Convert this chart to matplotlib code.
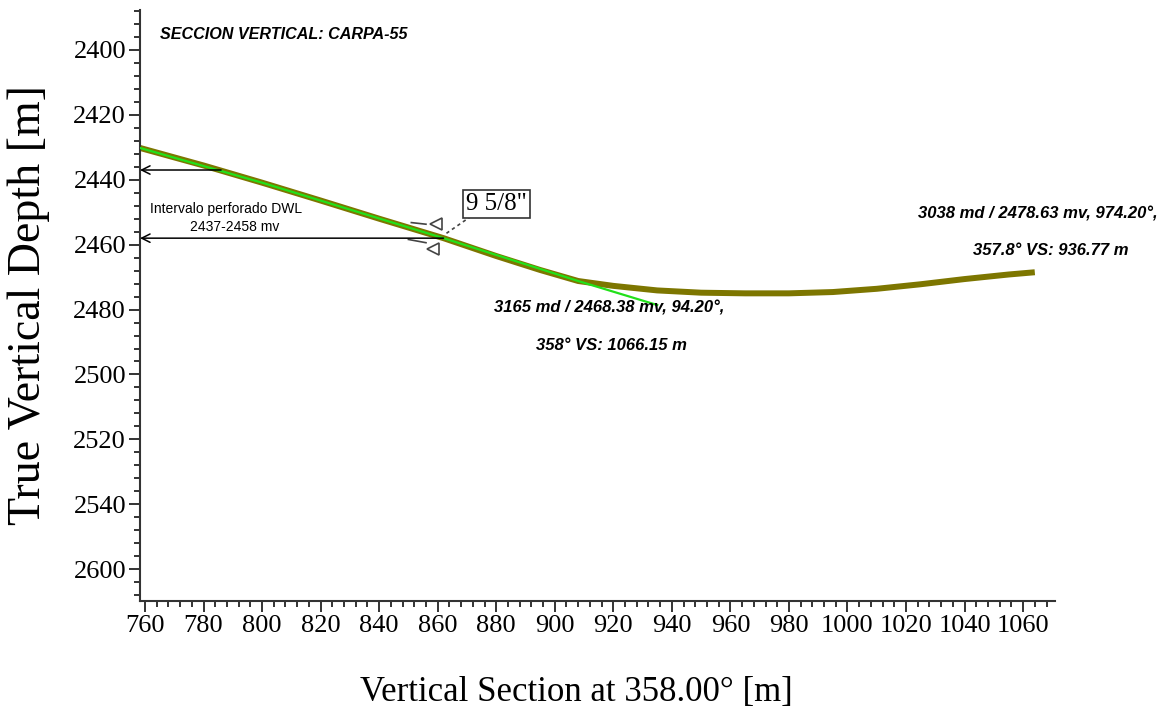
import matplotlib
matplotlib.use("Agg")
import matplotlib.pyplot as plt
from matplotlib.ticker import MultipleLocator

# Actual well path: vertical section (m) vs true vertical depth (m)
vs = [758.3, 780, 800, 820, 840, 862, 880, 895, 908, 920, 935, 950, 965,
      980, 995, 1010, 1025, 1040, 1055, 1064]
tvd = [2430.2, 2435.6, 2440.9, 2446.4, 2452.0, 2458.0, 2463.5, 2467.8,
       2471.2, 2472.7, 2474.1, 2474.8, 2475.0, 2475.0, 2474.6, 2473.6,
       2472.2, 2470.6, 2469.2, 2468.5]

# Planned trajectory (green)
plan_vs = [758.3, 800, 862, 908, 935]
plan_tvd = [2430.2, 2440.9, 2458.0, 2471.2, 2478.6]

# Perforated interval top/bottom and where it meets the path
perf_tvd = [2437, 2458]
perf_vs = [786, 862]

# Casing shoe 9 5/8"
shoe_vs = 859
shoe_tvd = 2458

y_ticks = [2400, 2420, 2440, 2460, 2480, 2500, 2520, 2540, 2560]
y_tick_labels = ["2400", "2420", "2440", "2460", "2480", "2500", "2520", "2540", "2600"]
x_ticks = list(range(760, 1061, 20))

serif = "Liberation Serif"
narrow = ["Liberation Sans Narrow", "Liberation Sans"]

fig = plt.figure(figsize=(11.64, 7.17), dpi=100)
ax = fig.add_axes([140 / 1164, 1 - 600.7 / 717, 915 / 1164, 590.7 / 717])

ax.plot(vs, tvd, color="#7d7600", lw=4.3, solid_capstyle="butt", zorder=2)
ax.plot(plan_vs, plan_tvd, color="#22e01a", lw=1.6, zorder=3)

ax.set_xlim(758.3, 1070.9)
ax.set_ylim(2569.7, 2387.7)

for sp in ["top", "right"]:
    ax.spines[sp].set_visible(False)
for sp in ["left", "bottom"]:
    ax.spines[sp].set_linewidth(1.5)
    ax.spines[sp].set_color("#333333")

ax.set_xticks(x_ticks)
ax.set_yticks(y_ticks)
ax.set_yticklabels(y_tick_labels)
ax.xaxis.set_minor_locator(MultipleLocator(4))
ax.yaxis.set_minor_locator(MultipleLocator(4))
ax.tick_params(which="major", length=8, width=1.4, color="#333333",
               labelsize=19, pad=2)
ax.tick_params(which="minor", length=4, width=1.4, color="#333333")
for lab in ax.get_xticklabels() + ax.get_yticklabels():
    lab.set_family(serif)

ax.set_xlabel("Vertical Section at 358.00\u00b0 [m]", family=serif, fontsize=25)
ax.set_ylabel("True Vertical Depth [m]", family=serif, fontsize=33)
ax.xaxis.set_label_coords(0.4765, -0.128)
ax.yaxis.set_label_coords(-0.098, 0.5)

ax.text(765, 2395.4, "SECCION VERTICAL: CARPA-55", family="Liberation Sans",
        fontsize=11.6, fontweight="bold", fontstyle="italic", va="center")

# perforated interval arrows back to the axis
for t, v in zip(perf_tvd, perf_vs):
    ax.annotate("", xy=(758.3, t), xytext=(v, t),
                arrowprops=dict(arrowstyle="->,head_length=0.6,head_width=0.3",
                                color="black", lw=1.1, shrinkA=0, shrinkB=0))
ax.text(787.7, 2449, "Intervalo perforado DWL", family=narrow, fontsize=10,
        ha="center", va="center")
ax.text(790.7, 2454.5, "2437-2458 mv", family=narrow, fontsize=10,
        ha="center", va="center")

# casing shoe symbol and label
ax.plot([shoe_vs - 8, shoe_vs - 3], [2453.2, 2453.7], color="#444444", lw=1.2)
ax.plot(shoe_vs + 0.5, 2453.7, marker="<", ms=8, mfc="none", mec="#444444", mew=1.2)
ax.plot([shoe_vs - 9, shoe_vs - 3], [2458.4, 2459.4], color="#444444", lw=1.2)
ax.plot(shoe_vs - 0.5, 2461.3, marker="<", ms=8, mfc="none", mec="#444444", mew=1.2)
ax.plot([shoe_vs + 4, shoe_vs + 12], [2456.5, 2451.5], color="#444444", lw=1.2,
        ls=(0, (2, 2)))
ax.text(880, 2447.6, "9 5/8\"", family=serif, fontsize=18, ha="center", va="center",
        bbox=dict(boxstyle="square,pad=0.12", fc="white", ec="#333333", lw=1.2))

# station annotations
ann = dict(family=narrow, fontsize=12, fontweight="bold", fontstyle="italic",
           ha="center", va="center")
ax.text(918.6, 2479.6, "3165 md / 2468.38 mv, 94.20\u00b0,", **ann)
ax.text(919.2, 2491.2, "358\u00b0 VS: 1066.15 m", **ann)
ax.text(1064.9, 2450.5, "3038 md / 2478.63 mv, 974.20\u00b0,", **ann)
ax.text(1069.5, 2461.9, "357.8\u00b0 VS: 936.77 m", **ann)

fig.savefig("out.png", dpi=100)
